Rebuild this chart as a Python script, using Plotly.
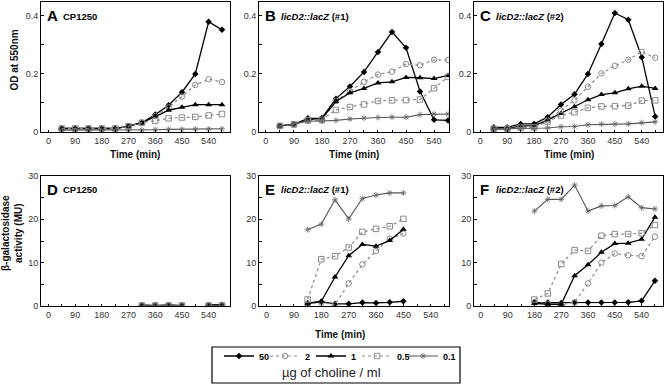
import plotly.graph_objects as go

# ---------------- data ----------------
series_names = ["50", "2", "1", "0.5", "0.1"]

T_top = [45, 90, 135, 180, 225, 270, 315, 360, 405, 450, 495, 540, 585]
T_D = [315, 360, 405, 450, 495, 540, 585]
T_E = [135, 180, 225, 270, 315, 360, 405, 450]
T_F = [180, 225, 270, 315, 360, 405, 450, 495, 540, 585]

# Panel A  (OD, CP1250)
A_50 = [0.012, 0.012, 0.012, 0.012, 0.012, 0.02, 0.032, 0.06, 0.092, 0.137, 0.2, 0.38, 0.352]
A_2 = [0.012, 0.012, 0.012, 0.012, 0.012, 0.02, 0.032, 0.055, 0.085, 0.122, 0.162, 0.182, 0.172]
A_1 = [0.012, 0.012, 0.012, 0.012, 0.012, 0.02, 0.032, 0.053, 0.075, 0.085, 0.094, 0.094, 0.094]
A_05 = [0.012, 0.012, 0.012, 0.012, 0.012, 0.02, 0.032, 0.039, 0.047, 0.05, 0.052, 0.057, 0.062]
A_01 = [0.006, 0.006, 0.006, 0.006, 0.006, 0.006, 0.007, 0.008, 0.009, 0.009, 0.01, 0.01, 0.011]

# Panel B  (OD, licD2::lacZ #1)
B_50 = [0.021, 0.026, 0.047, 0.048, 0.115, 0.157, 0.207, 0.276, 0.345, 0.29, 0.14, 0.042, 0.04]
B_2 = [0.021, 0.026, 0.04, 0.04, 0.107, 0.14, 0.173, 0.198, 0.208, 0.234, 0.23, 0.249, 0.248]
B_1 = [0.021, 0.026, 0.043, 0.047, 0.105, 0.135, 0.15, 0.169, 0.173, 0.188, 0.187, 0.184, 0.195]
B_05 = [0.021, 0.026, 0.04, 0.042, 0.076, 0.086, 0.095, 0.107, 0.109, 0.11, 0.112, 0.151, 0.19]
B_01 = [0.02, 0.028, 0.037, 0.038, 0.04, 0.045, 0.048, 0.05, 0.051, 0.051, 0.06, 0.062, 0.062]

# Panel C  (OD, licD2::lacZ #2)
C_50 = [0.016, 0.016, 0.028, 0.028, 0.051, 0.095, 0.13, 0.2, 0.303, 0.41, 0.387, 0.258, 0.053]
C_2 = [0.012, 0.012, 0.018, 0.018, 0.04, 0.074, 0.109, 0.156, 0.202, 0.228, 0.249, 0.276, 0.256]
C_1 = [0.011, 0.011, 0.021, 0.022, 0.041, 0.064, 0.087, 0.111, 0.129, 0.135, 0.149, 0.158, 0.15]
C_05 = [0.011, 0.011, 0.015, 0.016, 0.036, 0.057, 0.068, 0.083, 0.088, 0.089, 0.091, 0.108, 0.109]
C_01 = [0.01, 0.01, 0.012, 0.013, 0.014, 0.018, 0.019, 0.025, 0.027, 0.027, 0.028, 0.032, 0.035]

# Panel D  (beta-gal, CP1250)
D_50 = [0.2, 0.1, 0.2, 0.1, None, 0.2, 0.3]
D_2 = [0.1, 0.1, 0.1, 0.1, None, 0.1, 0.1]
D_1 = [0.2, 0.1, 0.2, 0.1, None, 0.2, 0.2]
D_05 = [0.1, 0.1, 0.1, 0.1, None, 0.1, 0.1]
D_01 = [0.1, 0.1, 0.1, 0.1, None, 0.1, 0.1]

# Panel E  (beta-gal, licD2::lacZ #1)
E_50 = [0.7, 1.0, 0.5, 0.5, 0.8, 0.7, 0.85, 1.1]
E_2 = [0.5, 0.8, 0.3, 5.2, 9.6, 12.7, 15.5, 16.7]
E_1 = [0.5, 1.1, 6.7, 11.6, 14.2, 13.8, 15.1, 17.7]
E_05 = [1.5, 10.8, 11.5, 13.5, 17.1, 17.8, 18.4, 20.1]
E_01 = [17.6, 18.9, 24.5, 20.1, 24.8, 25.6, 26.1, 26.1]

# Panel F  (beta-gal, licD2::lacZ #2)
F_50 = [0.8, 0.8, 0.7, 0.8, 0.8, 0.8, 0.8, 0.85, 1.2, 5.8]
F_2 = [0.9, 0.5, 0.25, 0.85, 5.2, 10.0, 12.1, 11.7, 11.5, 16.0]
F_1 = [0.6, 0.4, 0.4, 7.0, 9.5, 12.4, 14.4, 14.5, 15.4, 20.5]
F_05 = [1.5, 2.9, 9.7, 12.9, 12.7, 16.2, 16.6, 16.6, 16.8, 18.7]
F_01 = [21.9, 24.6, 24.6, 27.9, 21.9, 23.1, 23.2, 25.2, 22.7, 22.4]

x_tick_vals = [0, 90, 180, 270, 360, 450, 540]
od_tick_vals = [0, 0.2, 0.4]
od_tick_text = ["0", "0.2", "0.4"]
mu_tick_vals = [0, 10, 20, 30]

panels = [
    dict(letter="A", label="<b>CP1250</b>", t=T_top, data=[A_50, A_2, A_1, A_05, A_01]),
    dict(letter="B", label="<b><i>licD2::lacZ</i> (#1)</b>", t=T_top, data=[B_50, B_2, B_1, B_05, B_01]),
    dict(letter="C", label="<b><i>licD2::lacZ</i> (#2)</b>", t=T_top, data=[C_50, C_2, C_1, C_05, C_01]),
    dict(letter="D", label="<b>CP1250</b>", t=T_D, data=[D_50, D_2, D_1, D_05, D_01]),
    dict(letter="E", label="<b><i>licD2::lacZ</i> (#1)</b>", t=T_E, data=[E_50, E_2, E_1, E_05, E_01]),
    dict(letter="F", label="<b><i>licD2::lacZ</i> (#2)</b>", t=T_F, data=[F_50, F_2, F_1, F_05, F_01]),
]

# ---------------- styling ----------------
W, H = 664, 385
def px(x):
    return x / W
def py(y):
    return 1 - y / H

GREY = "#8a8a8a"
styles = {
    "50": dict(line=dict(color="black", width=1.3), marker=dict(symbol="diamond", size=5, color="black")),
    "2": dict(line=dict(color=GREY, width=1.2, dash="dot"), marker=dict(symbol="circle-open", size=5.5, color=GREY, line=dict(width=1, color=GREY))),
    "1": dict(line=dict(color="black", width=1.3), marker=dict(symbol="triangle-up", size=6, color="black")),
    "0.5": dict(line=dict(color=GREY, width=1.2, dash="dot"), marker=dict(symbol="square-open", size=5.5, color=GREY, line=dict(width=1, color=GREY))),
    "0.1": dict(line=dict(color="#555555", width=1.1), marker=dict(symbol="asterisk-open", size=5, color="#666666", line=dict(width=0.8, color="#666666"))),
}
legend_widths = {"50": 1, "2": 1, "1": 1, "0.5": 1, "0.1": 16}

col_x = [(41, 230), (259, 449), (474, 663)]
row_y = [(2, 132), (176, 306)]
x_ranges = [[-25, 612], [-22, 588], [-21, 611], [-25, 612], [-25, 600], [-23, 612]]

FONT = "Liberation Sans, Arial, sans-serif"

fig = go.Figure()
layout = dict(
    width=W, height=H, margin=dict(l=0, r=0, t=0, b=0),
    paper_bgcolor="white", plot_bgcolor="white",
    font=dict(family=FONT, color="#222"),
)
annotations = []

def note(text, x, y, size, xanchor="center", angle=0, color="#111"):
    return dict(text=text, x=px(x), y=py(y), xref="paper", yref="paper",
                xanchor=xanchor, yanchor="middle", textangle=angle, showarrow=False,
                font=dict(size=size, color=color, family=FONT))

for i, p in enumerate(panels):
    r, c = divmod(i, 3)
    ax = "" if i == 0 else str(i + 1)
    xa, ya = "x" + ax, "y" + ax
    for name, vals in zip(series_names, p["data"]):
        st = styles[name]
        fig.add_trace(go.Scatter(
            x=p["t"], y=vals, mode="lines+markers", name=name,
            xaxis=xa, yaxis=ya, legendgroup=name, showlegend=(i == 0),
            legendwidth=legend_widths[name],
            line=st["line"], marker=st["marker"], connectgaps=False,
        ))
    x0, x1 = col_x[c]
    y0, y1 = row_y[r]
    common = dict(showline=True, mirror=True, linecolor="black", linewidth=1,
                  showgrid=False, zeroline=False, ticks="inside", ticklen=3,
                  tickcolor="black", tickfont=dict(family=FONT, size=9, color="#333"),
                  automargin=False)
    layout["xaxis" + ax] = dict(common, domain=[px(x0), px(x1)], range=x_ranges[i],
                                 anchor=ya, tickvals=x_tick_vals, ticklen=0,
                                 minor=dict(dtick=45, tick0=0, ticks="inside", ticklen=2, tickcolor="black"))
    if r == 0:
        layout["yaxis" + ax] = dict(common, domain=[py(y1), py(y0)], range=[0, 0.448],
                                     anchor=xa, tickvals=od_tick_vals, ticktext=od_tick_text,
                                     minor=dict(dtick=0.1, tick0=0, ticks="inside", ticklen=3, tickcolor="black"))
    else:
        layout["yaxis" + ax] = dict(common, domain=[py(y1), py(y0)], range=[0, 30],
                                     anchor=xa, tickvals=mu_tick_vals,
                                     minor=dict(dtick=5, tick0=0, ticks="inside", ticklen=3, tickcolor="black"))
    # panel letters and labels
    annotations.append(note("<b>" + p["letter"] + "</b>", x0 + 4, y0 + 13, 15, xanchor="left", color="black"))
    annotations.append(note(p["label"], x0 + 20, y0 + 14, 9.5, xanchor="left", color="black"))

# axis titles
for cx in [135, 354, 569]:
    annotations.append(note("<b>Time (min)</b>", cx, 154, 10))
annotations.append(note("<b>Time (min)</b>", 340, 334, 10))
annotations.append(note("<b>OD at 550nm</b>", 13.5, 60, 10, angle=-90))
annotations.append(note("<b>β-galactosidase<br>activity (MU)</b>", 12, 233, 10, angle=-90))
annotations.append(note("µg of choline / ml", 331, 372, 13, color="#222"))

layout["annotations"] = annotations
layout["shapes"] = [dict(type="rect", xref="paper", yref="paper",
                         x0=px(212), x1=px(460), y0=py(383), y1=py(347),
                         line=dict(color="black", width=1.2), fillcolor="rgba(0,0,0,0)")]
layout["legend"] = dict(orientation="h", x=px(219), y=py(356), xanchor="left", yanchor="middle",
                        entrywidthmode="pixels", bgcolor="rgba(0,0,0,0)",
                        borderwidth=0, font=dict(size=9, color="black", family=FONT, weight="bold"),
                        tracegroupgap=0)
layout["showlegend"] = True
fig.update_layout(**layout)

fig.write_html("out.html", config={"displayModeBar": False},
               post_script="document.body.style.margin='0';document.body.style.overflow='hidden';")
